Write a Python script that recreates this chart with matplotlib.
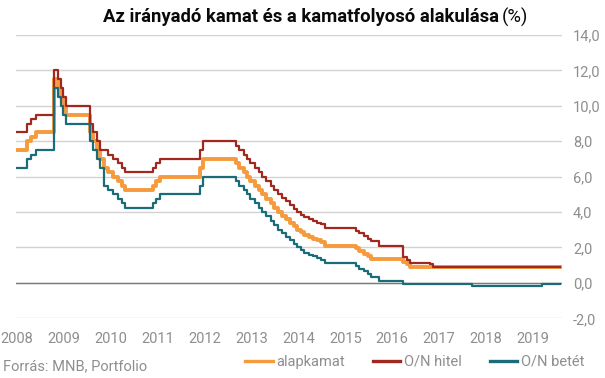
import matplotlib
matplotlib.use("Agg")
import matplotlib.pyplot as plt
from matplotlib.ticker import FuncFormatter

plt.rcParams['font.family'] = ['Roboto', 'DejaVu Sans']

# alapkamat (jegybanki alapkamat), lépcsős idősor
alap_dates = [2008.0, 2008.22, 2008.31, 2008.40, 2008.80, 2008.88, 2008.94, 2008.99, 2009.04,
              2009.56, 2009.63, 2009.70, 2009.77, 2009.86, 2009.95, 2010.05, 2010.16,
              2010.23, 2010.30, 2010.90, 2010.97, 2011.06, 2011.91, 2011.97,
              2012.66, 2012.73, 2012.83, 2012.91, 2012.96, 2013.08, 2013.16, 2013.23, 2013.31,
              2013.41, 2013.48, 2013.56, 2013.66, 2013.73, 2013.83, 2013.91, 2013.96, 2014.06,
              2014.13, 2014.23, 2014.31, 2014.40, 2014.48, 2014.56,
              2015.23, 2015.30, 2015.40, 2015.48, 2015.55, 2016.22, 2016.32, 2016.39, 2019.58]
alap_vals = [7.5, 8.0, 8.25, 8.5, 11.5, 11.0, 10.5, 10.0, 9.5,
             8.5, 8.0, 7.5, 7.0, 6.5, 6.25, 6.0, 5.75,
             5.5, 5.25, 5.5, 5.75, 6.0, 6.5, 7.0,
             6.75, 6.5, 6.25, 6.0, 5.75, 5.5, 5.25, 5.0, 4.75,
             4.5, 4.25, 4.0, 3.8, 3.6, 3.4, 3.2, 3.0, 2.85,
             2.7, 2.6, 2.5, 2.4, 2.3, 2.1,
             1.95, 1.8, 1.65, 1.5, 1.35, 1.2, 1.05, 0.9, 0.9]

# O/N hitel (kamatfolyosó felső széle)
hitel_dates = [2008.0, 2008.22, 2008.31, 2008.40, 2008.80, 2008.88, 2008.94, 2008.99, 2009.04,
               2009.56, 2009.63, 2009.70, 2009.77, 2009.95, 2010.05, 2010.16,
               2010.23, 2010.30, 2010.90, 2010.97, 2011.06, 2011.91, 2011.97,
               2012.66, 2012.73, 2012.83, 2012.91, 2012.96, 2013.08, 2013.16, 2013.23, 2013.31,
               2013.41, 2013.48, 2013.56, 2013.66, 2013.73, 2013.83, 2013.91, 2013.96, 2014.06,
               2014.13, 2014.23, 2014.31, 2014.40, 2014.48, 2014.56,
               2015.23, 2015.30, 2015.40, 2015.48, 2015.55, 2015.72, 2016.22, 2016.32, 2016.39,
               2016.80, 2016.87, 2019.58]
hitel_vals = [8.5, 9.0, 9.25, 9.5, 12.0, 11.5, 11.0, 10.5, 10.0,
              9.0, 8.5, 8.0, 7.5, 7.25, 7.0, 6.75,
              6.5, 6.25, 6.5, 6.75, 7.0, 7.5, 8.0,
              7.75, 7.5, 7.25, 7.0, 6.75, 6.5, 6.25, 6.0, 5.75,
              5.5, 5.25, 5.0, 4.8, 4.6, 4.4, 4.2, 4.0, 3.85,
              3.7, 3.6, 3.5, 3.4, 3.3, 3.1,
              2.95, 2.8, 2.65, 2.5, 2.35, 2.1, 1.45, 1.3, 1.15,
              1.05, 0.9, 0.9]

# O/N betét (kamatfolyosó alsó széle)
betet_dates = [2008.0, 2008.22, 2008.31, 2008.40, 2008.80, 2008.88, 2008.94, 2008.99, 2009.04,
               2009.56, 2009.63, 2009.70, 2009.77, 2009.86, 2009.95, 2010.05, 2010.16,
               2010.23, 2010.30, 2010.90, 2010.97, 2011.06, 2011.91, 2011.97,
               2012.66, 2012.73, 2012.83, 2012.91, 2012.96, 2013.08, 2013.16, 2013.23, 2013.31,
               2013.41, 2013.48, 2013.56, 2013.66, 2013.73, 2013.83, 2013.91, 2013.96, 2014.06,
               2014.13, 2014.23, 2014.31, 2014.40, 2014.48, 2014.56,
               2015.23, 2015.30, 2015.40, 2015.48, 2015.55, 2015.72, 2016.22,
               2017.70, 2019.20, 2019.58]
betet_vals = [6.5, 7.0, 7.25, 7.5, 11.0, 10.5, 10.0, 9.5, 9.0,
              8.0, 7.5, 7.0, 6.5, 5.5, 5.25, 5.0, 4.75,
              4.5, 4.25, 4.5, 4.75, 5.0, 5.5, 6.0,
              5.75, 5.5, 5.25, 5.0, 4.75, 4.5, 4.25, 4.0, 3.75,
              3.5, 3.25, 3.0, 2.8, 2.6, 2.4, 2.2, 2.0, 1.85,
              1.7, 1.6, 1.5, 1.4, 1.3, 1.1,
              0.95, 0.8, 0.65, 0.5, 0.35, 0.1, -0.05,
              -0.15, -0.05, -0.05]

years = list(range(2008, 2020))
yticks = [-2, 0, 2, 4, 6, 8, 10, 12, 14]

c_alap = '#F59B3D'
c_hitel = '#A0281E'
c_betet = '#1B6B78'
grey_txt = '#8E8E8E'

fig = plt.figure(figsize=(6.05, 3.78), dpi=100)
ax = fig.add_axes([16 / 605, 1 - 318.3 / 378, (562 - 16) / 605, (318.3 - 35) / 378])

for y in yticks:
    ax.axhline(y, color='#D2D2D2', lw=1.0, zorder=0)
ax.axhline(0, color='#7A7A7A', lw=1.0, zorder=1)

ax.step(alap_dates, alap_vals, where='post', color=c_alap, lw=2.8, label='alapkamat', zorder=2)
ax.step(hitel_dates, hitel_vals, where='post', color=c_hitel, lw=1.6, label='O/N hitel', zorder=3)
ax.step(betet_dates, betet_vals, where='post', color=c_betet, lw=1.6, label='O/N betét', zorder=4)

ax.set_xlim(2007.98, 2019.62)
ax.set_ylim(-2, 14)
ax.set_xticks(years)
ax.set_yticks(yticks)
ax.yaxis.set_major_formatter(FuncFormatter(lambda v, p: f'{v:.1f}'.replace('.', ',')))
ax.yaxis.tick_right()
ax.tick_params(axis='both', length=0, labelsize=10.5, labelcolor=grey_txt)
ax.tick_params(axis='y', pad=8)
ax.tick_params(axis='x', pad=10)
for s in ax.spines.values():
    s.set_visible(False)

t1 = fig.text(103 / 605, 1 - 17 / 378, 'Az irányadó kamat és a kamatfolyosó alakulása',
              fontsize=13.3, fontweight='bold', color='#0A0A0A', va='center', ha='left')
fig.canvas.draw()
bb = t1.get_window_extent()
fig.text(bb.x1 / 605 + 3 / 605, 1 - 17 / 378, '(%)', fontsize=13.3, color='#0A0A0A',
         va='center', ha='left')

fig.text(3 / 605, 1 - 366 / 378, 'Forrás: MNB, Portfolio', fontsize=10.5, color=grey_txt,
         va='center', ha='left')

leg = fig.legend(loc='center left', bbox_to_anchor=(245 / 605, 1 - 362 / 378), ncol=3,
                 frameon=False, fontsize=10.5, handlelength=1.9, handletextpad=0.25,
                 columnspacing=1.9, borderpad=0, borderaxespad=0)
for t in leg.get_texts():
    t.set_color(grey_txt)
for h in leg.get_lines():
    h.set_linewidth(2.4)

fig.savefig('out.png', dpi=100)
